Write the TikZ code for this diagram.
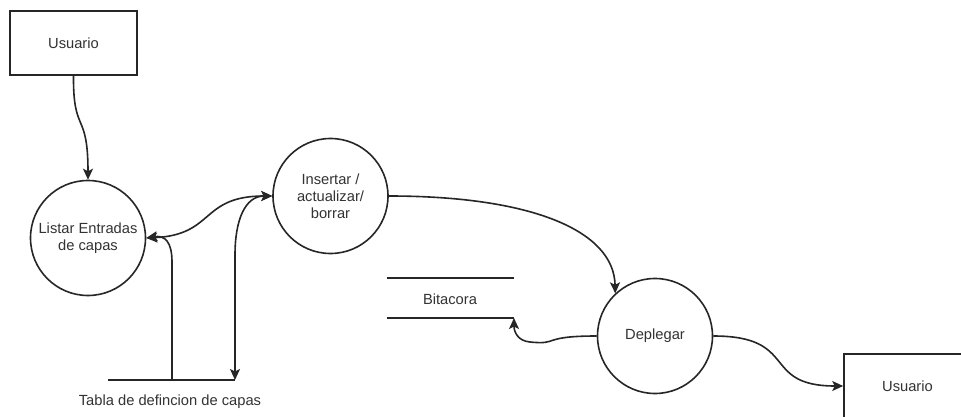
\documentclass[tikz,border=0pt]{standalone}
\usepackage{fontspec}
\setmainfont{Liberation Sans}
\usetikzlibrary{arrows.meta}
\begin{document}
\begin{tikzpicture}[x=1pt,y=-1pt,
  every node/.style={font=\fontsize{14.7}{17}\selectfont, text=black!80},
  entity/.style={draw=black!85, line width=1.6pt, minimum width=127pt, minimum height=64pt, inner sep=0pt},
  process/.style={draw=black!85, line width=1.6pt, circle, minimum size=115pt, inner sep=0pt, align=center},
  flow/.style={draw=black!85, line width=1.6pt, -{Stealth[length=11pt,width=10pt,inset=2.5pt]}},
  biflow/.style={draw=black!85, line width=1.6pt, {Stealth[length=11pt,width=10pt,inset=2.5pt]}-{Stealth[length=11pt,width=10pt,inset=2.5pt]}},
  storeline/.style={draw=black!85, line width=1.6pt}]
\useasboundingbox (0,0) rectangle (961,417);
\clip (0,0) rectangle (961,417);
\fill[white] (0,0) rectangle (961,417);

% external entities
\node[entity] (u1) at (73.5,43) {Usuario};
\node[entity] (u2) at (907.5,386) {Usuario};

% processes
\node[process] (listar) at (88,238) {Listar Entradas\\de capas};
\node[process] (ins) at (330.5,196) {Insertar /\\actualizar/\\borrar};
\node[process] (dep) at (655,336) {Deplegar};

% data store: layer definition table
\coordinate (tA) at (108,380);
\coordinate (tB) at (235,380);
\coordinate (tC) at (172,380);
\draw[storeline] (tA) -- (tB);
\node (tlabel) at (170,402) {Tabla de defincion de capas};

% data store: log
\coordinate (b1) at (387,278);
\coordinate (b2) at (514,278);
\coordinate (b3) at (387,318);
\coordinate (b4) at (514,318);
\draw[storeline] (b1) -- (b2);
\draw[storeline] (b3) -- (b4);
\node (blabel) at (450,299) {Bitacora};

% flows
\draw[flow] (u1.south) .. controls (73,135) and (88,110) .. (listar.north);
\draw[biflow] (listar.east) .. controls (215,235) and (200,196) .. (ins.west);
\draw[flow] (tC) -- (172,262) .. controls (172,242) and (165,235) .. (listar.east);
\draw[biflow] (tB) -- (235,255) .. controls (235,220) and (245,196) .. (ins.west);
\draw[flow] (ins.east) .. controls (530,196) and (614,230) .. (dep.133);
\draw[flow] (dep.west) .. controls (540,336) and (560,345) .. (530,342) .. controls (518,341) and (514,332) .. (b4);
\draw[flow] (dep.east) .. controls (800,336) and (760,386) .. (u2.west);
\end{tikzpicture}
\end{document}
